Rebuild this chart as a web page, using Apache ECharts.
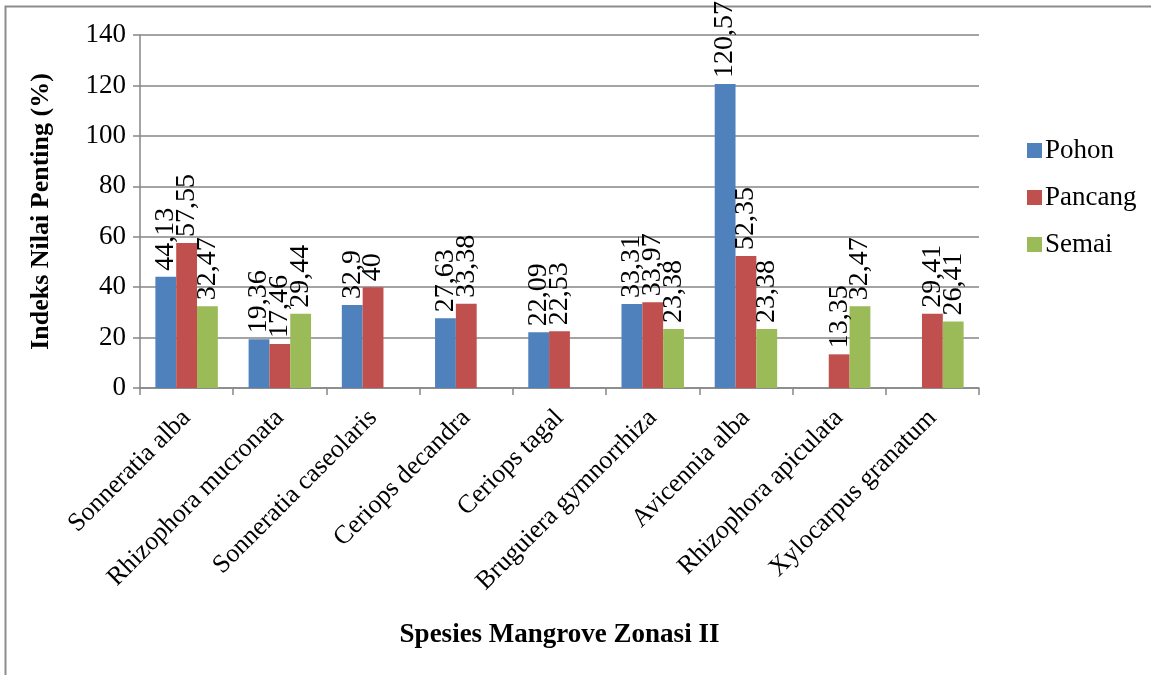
<!DOCTYPE html>
<html><head><meta charset="utf-8">
<script src="https://cdn.jsdelivr.net/npm/echarts@6/dist/echarts.min.js"></script>
<style>html,body{margin:0;padding:0;background:#fff}#c{width:1151px;height:675px}</style>
</head><body><div id="c"></div>
<script>
var categories = ["Sonneratia alba","Rhizophora mucronata","Sonneratia caseolaris","Ceriops decandra","Ceriops tagal","Bruguiera gymnorrhiza","Avicennia alba","Rhizophora apiculata","Xylocarpus granatum"];
var pohon = [44.13,19.36,32.9,27.63,22.09,33.31,120.57,null,null];
var pancang = [57.55,17.46,40,33.38,22.53,33.97,52.35,13.35,29.41];
var semai = [32.47,29.44,null,null,null,23.38,23.38,32.47,26.41];
var seriesNames = ["Pohon","Pancang","Semai"];
var colors = ["#4F81BD","#C0504D","#9BBB59"];
var font = "'Liberation Serif','Times New Roman',serif";
function mk(name, data, color){
  return {name:name,type:'bar',data:data,itemStyle:{color:color},barGap:'0%',barCategoryGap:'33%',
    label:{show:true,position:'top',rotate:90,align:'left',verticalAlign:'middle',distance:6,
      fontFamily:font,fontSize:28,color:'#000',
      formatter:function(p){return p.value==null?'':String(p.value).replace('.',',');}}};
}
var chart = echarts.init(document.getElementById('c'));
chart.setOption({
  animation:false,
  textStyle:{fontFamily:font},
  grid:{left:140,right:172,top:35,bottom:287,containLabel:false},
  legend:{orient:'vertical',left:1022,top:132,itemWidth:15,itemHeight:15,itemGap:20,icon:'rect',
    textStyle:{fontFamily:font,fontSize:27,color:'#000',padding:[0,0,0,-2]},data:seriesNames},
  xAxis:{type:'category',data:categories,
    axisLine:{lineStyle:{color:'#868686',width:1.5}},
    axisTick:{show:true,length:7,lineStyle:{color:'#868686',width:1.5}},
    axisLabel:{rotate:45,fontFamily:font,fontSize:26,color:'#000',margin:26,interval:0},
    name:'Spesies Mangrove Zonasi II',nameLocation:'middle',nameGap:234,
    nameTextStyle:{fontFamily:font,fontSize:27,fontWeight:'bold',color:'#000'}},
  yAxis:{type:'value',min:0,max:140,interval:20,
    axisLine:{show:true,lineStyle:{color:'#868686',width:1.5}},
    axisTick:{show:true,length:7,lineStyle:{color:'#868686',width:1.5}},
    splitLine:{lineStyle:{color:'#868686',width:1.5}},
    axisLabel:{fontFamily:font,fontSize:27,color:'#000',margin:14},
    name:'Indeks Nilai Penting (%)',nameLocation:'middle',nameGap:86,nameRotate:90,
    nameTextStyle:{fontFamily:font,fontSize:26,fontWeight:'bold',color:'#000'}},
  graphic:[{type:'rect',shape:{x:5.5,y:6.5,width:1300,height:800},style:{fill:null,stroke:'#8c8c8c',lineWidth:2},silent:true}],
  series:[mk(seriesNames[0],pohon,colors[0]),mk(seriesNames[1],pancang,colors[1]),mk(seriesNames[2],semai,colors[2])]
});
</script></body></html>
